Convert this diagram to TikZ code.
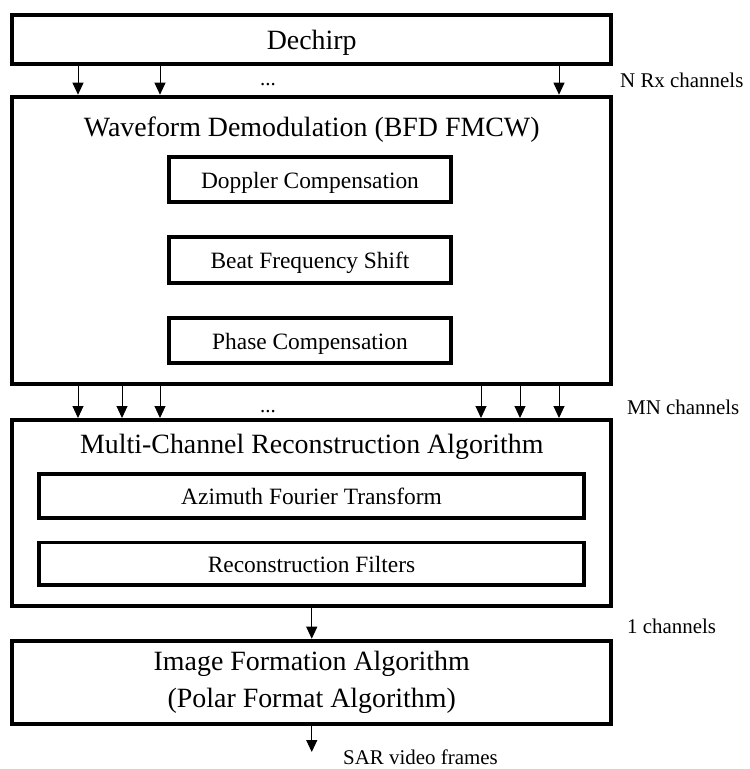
\documentclass[tikz,border=0pt]{standalone}
\usepackage{fontspec}
\setmainfont{Liberation Serif}
\usetikzlibrary{arrows.meta}
\begin{document}
\begin{tikzpicture}[x=1bp,y=-1bp,
  outerbox/.style={draw,line width=4bp,minimum width=598.5bp,inner sep=0pt},
  titletext/.style={font=\fontsize{28}{37}\selectfont,inner sep=0pt,align=center},
  innerbox/.style={draw,line width=3.5bp,inner sep=0pt,
    font=\fontsize{23.5}{28}\selectfont,text height=19.5bp,text depth=2.5bp},
  chanlbl/.style={font=\fontsize{21}{25}\selectfont,inner sep=0pt,anchor=base west},
  arr/.style={line width=1bp,-{Triangle[width=11bp,length=12bp]}}]
  \useasboundingbox (0,0) rectangle (750,769);

  % Processing stages
  \node[outerbox,titletext,minimum height=48bp,text height=23bp,text depth=2bp] (dech) at (311.75,39.5) {Dechirp};
  \node[outerbox,minimum height=287.3bp] (wave) at (311.75,240.35) {};
  \node[titletext,anchor=base] (wavetitle) at (311.75,136) {Waveform Demodulation (BFD FMCW)};
  \node[innerbox,minimum width=282bp,minimum height=45bp] (dop) at (310,179.5) {Doppler Compensation};
  \node[innerbox,minimum width=282bp,minimum height=46bp] (beat) at (310,260) {Beat Frequency Shift};
  \node[innerbox,minimum width=282bp,minimum height=45bp] (phase) at (310,340.5) {Phase Compensation};

  \node[outerbox,minimum height=185.7bp] (mcr) at (311.75,512.85) {};
  \node[titletext,anchor=base] (mcrtitle) at (311.75,453) {Multi-Channel Reconstruction Algorithm};
  \node[innerbox,minimum width=545bp,minimum height=44bp] (azi) at (311.5,496) {Azimuth Fourier Transform};
  \node[innerbox,minimum width=545bp,minimum height=42.5bp] (recf) at (311.5,563.9) {Reconstruction Filters};

  \node[outerbox,titletext,minimum height=83.3bp] (ifa) at (311.75,682.35) {Image Formation Algorithm\\(Polar Format Algorithm)};
  \coordinate (out) at (311.75,752);

  % Channel connectors
  \foreach \x in {78,160,559}
    \draw[arr] (dech.south -| \x,0) -- (wave.north -| \x,0);
  \foreach \x in {78,122,160,481,520,559}
    \draw[arr] (wave.south -| \x,0) -- (mcr.north -| \x,0);
  \draw[arr] (mcr.south) -- (ifa.north);
  \draw[arr] (ifa.south) -- (out);

  % Ellipses and channel counts
  \node[chanlbl,anchor=base] (dots1) at (268,85) {...};
  \node[chanlbl,anchor=base] (dots2) at (268,412) {...};
  \node[chanlbl] (nrx) at (620,87) {N Rx channels};
  \node[chanlbl] (mn) at (627,414) {MN channels};
  \node[chanlbl] (one) at (627,633) {1 channels};
  \node[chanlbl] (sar) at (343,764) {SAR video frames};
\end{tikzpicture}
\end{document}
